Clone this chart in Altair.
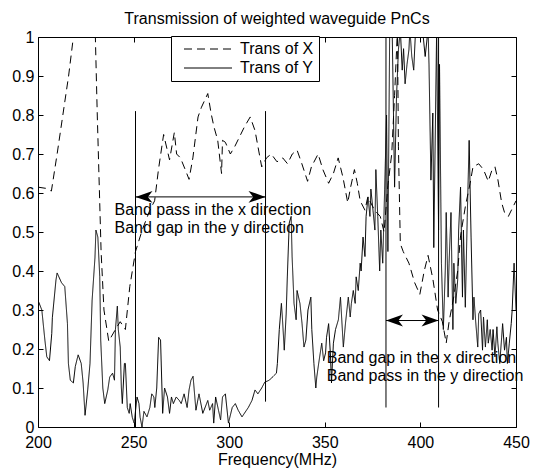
import altair as alt
import pandas as pd

FONT = "Liberation Sans"

# ---- data ----
x_freq = [200, 204, 207, 210, 213, 216, 218.5, 224, 230, 231, 233, 234.5, 237, 240.5, 243, 245.7,
          248, 251, 254.5, 258.5, 261, 263, 265.7, 268.8, 271.3, 272.5, 274.5, 277, 279, 281, 283.7,
          285.5, 288.8, 290.5, 292, 294, 296, 296.5, 298, 300.6, 303, 305.5, 308, 311, 313.5, 315,
          317, 319.5, 322, 325, 328, 330.5, 333, 335.5, 338, 341, 343, 346.5, 349, 352, 354.5, 357,
          359.5, 362, 363.5, 365.5, 367, 368.5, 371, 372.5, 376, 379, 381, 383, 385, 386.5, 388,
          388.5, 389.5, 391, 394, 397, 399.7, 402, 404, 406.5, 409, 411.5, 413.5, 415, 417.5, 419.5,
          421, 423.5, 426, 427.5, 430.5, 433, 435.5, 437.5, 439, 440.5, 442.5, 444, 446, 448.5, 450]
x_trans = [0.615, 0.612, 0.605, 0.70, 0.80, 0.90, 1.0, 1.15, 1.0, 0.80, 0.45, 0.30, 0.22, 0.25, 0.27, 0.25,
           0.36, 0.45, 0.505, 0.556, 0.58, 0.66, 0.75, 0.685, 0.755, 0.70, 0.69, 0.66, 0.635, 0.69, 0.795,
           0.82, 0.855, 0.805, 0.77, 0.735, 0.65, 0.735, 0.73, 0.70, 0.72, 0.745, 0.77, 0.795, 0.76, 0.72,
           0.667, 0.69, 0.70, 0.68, 0.69, 0.675, 0.70, 0.71, 0.675, 0.63, 0.667, 0.70, 0.66, 0.625, 0.65, 0.69,
           0.64, 0.575, 0.615, 0.66, 0.625, 0.58, 0.556, 0.59, 0.556, 0.54, 0.50, 0.62, 0.70, 0.85, 1.02,
           0.72, 0.47, 0.45, 0.42, 0.37, 0.34, 0.40, 0.44, 0.38, 0.30, 0.27, 0.215, 0.27, 0.335, 0.40,
           0.49, 0.565, 0.625, 0.667, 0.675, 0.66, 0.63, 0.66, 0.667, 0.635, 0.575, 0.55, 0.54, 0.565, 0.58]

y_freq = [200, 202, 203.6, 204.6, 206, 207.2, 207.5, 209.4, 210, 212.3, 214, 215.4, 215.9, 216.9, 218.5,
          219.5, 221, 222.6, 223.6, 224.6, 226, 227.2, 228.3, 229.8, 230.3, 231.3, 232.3, 232.8, 233.9,
          234.9, 236.5, 237.5, 239, 240, 240.5, 241.5, 242, 243, 243.6, 244.1, 245.2, 245.7, 246.7, 247.7,
          248.2, 249.3, 250.3, 251.8, 252.8, 253.4, 254.4, 255.4, 257, 258.5, 259.5, 260.6, 261.1, 262.1,
          263.1, 264.1, 265.2, 266.2, 267.7, 268.8, 269.8, 270.8, 272.3, 273.9, 274.9, 276.4, 278, 279,
          280, 281.1, 282.6, 284.2, 286.2, 288.8, 289.8, 291.3, 291.9, 292.9, 294.4, 295.5, 296.5, 298,
          299.6, 301.6, 303.2, 304.7, 306.7, 310, 311.9, 313.5, 315, 317, 318.6,
          321, 322.6, 324.7, 325.2, 326.2, 327.3, 327.8, 328.8, 329.8, 330.4, 331.4, 332.4, 332.9, 333.9,
          335, 335.5, 337, 338.1, 339.1, 340.1, 341.2, 342.7, 343.2, 344.3, 345.3, 345.8, 346.8, 348.4,
          349.4, 350.4, 350.9, 352, 353, 353.5, 354.5, 355.6, 357.1, 358.2, 358.7, 359.7, 360.8, 362.3,
          363.3, 363.9, 364.9, 365.9, 366.4, 367.5, 368.5, 369, 370, 371, 371.6, 372.6, 373.6, 374.1,
          375.2, 376.2, 376.7, 377.7, 378.7, 379.3, 380.3, 381.3, 382.3, 383, 384, 385.3, 386.5, 387.5,
          388.5, 389.5, 390.5, 391.2, 392, 393, 394, 394.5, 395.5, 396.5, 397.5, 399.5, 401.5, 402.5,
          404, 404.5, 405.5, 406.5, 407, 408.5, 409.5, 410, 411, 412, 413, 413.5, 414.5, 415, 416, 417,
          417.5, 418.5, 419.5, 420, 421, 422, 422.5, 423.5, 424.5, 425.5, 426.5, 427.5, 428, 429, 430,
          430.5, 431.5, 432.5, 433, 434, 435, 435.5, 436.5, 437.5, 438, 439, 440, 440.5, 441.5, 442.5,
          443, 444, 445, 445.5, 446.5, 447.5, 448, 449, 450]
y_trans = [0.325, 0.30, 0.223, 0.18, 0.17, 0.24, 0.28, 0.377, 0.395, 0.37, 0.36, 0.265, 0.163, 0.12, 0.113,
           0.155, 0.185, 0.163, 0.113, 0.03, 0.095, 0.163, 0.325, 0.435, 0.505, 0.487, 0.385, 0.223, 0.10,
           0.06, 0.095, 0.128, 0.138, 0.12, 0.25, 0.31, 0.25, 0.205, 0.10, 0.06, 0.163, 0.163, 0.05, 0.035,
           0.06, 0.025, 0.01, 0.077, 0.06, 0.025, 0.0, 0.04, 0.026, 0.05, 0.085, 0.077, 0.05, 0.10,
           0.23, 0.223, 0.035, 0.10, 0.077, 0.035, 0.077, 0.06, 0.077, 0.068, 0.06, 0.085, 0.05, 0.095,
           0.12, 0.13, 0.043, 0.085, 0.035, 0.068, 0.043, 0.06, 0.01, 0.077, 0.043, 0.018, 0.077, 0.085,
           0.01, 0.05, 0.06, 0.043, 0.026, 0.05, 0.068, 0.095, 0.085, 0.10, 0.115,
           0.12, 0.128, 0.138, 0.163, 0.25, 0.317, 0.282, 0.197, 0.29, 0.385, 0.523, 0.54, 0.437, 0.317,
           0.275, 0.35, 0.317, 0.265, 0.205, 0.223, 0.30, 0.333, 0.25, 0.163, 0.10, 0.128, 0.163, 0.215,
           0.17, 0.19, 0.23, 0.265, 0.18, 0.113, 0.215, 0.25, 0.275, 0.333, 0.29, 0.205, 0.265, 0.333,
           0.282, 0.317, 0.35, 0.317, 0.385, 0.35, 0.42, 0.40, 0.487, 0.437, 0.54, 0.59, 0.54, 0.61,
           0.556, 0.505, 0.66, 0.54, 0.40, 0.505, 0.42, 0.61, 0.80, 0.45, 1.05, 1.0, 0.615, 0.846,
           0.967, 1.02, 0.915, 0.97, 0.88, 0.93, 0.967, 1.02, 0.95, 0.915, 1.02, 1.05, 1.0, 0.95,
           1.02, 0.93, 0.633, 0.805, 0.46, 1.02, 0.505, 0.93, 0.42, 0.25, 0.40, 0.55, 0.333, 0.42, 0.55, 0.25,
           0.42, 0.317, 0.377, 0.505, 0.615, 0.333, 0.505, 0.307, 0.538, 0.735, 0.487, 0.275, 0.333, 0.265, 0.205,
           0.29, 0.30, 0.197, 0.282, 0.205, 0.275, 0.215, 0.25, 0.197, 0.25, 0.18, 0.257, 0.215, 0.163, 0.23,
           0.265, 0.197, 0.23, 0.163, 0.215, 0.265, 0.30, 0.42, 0.30]

series_names = ["Trans of X", "Trans of Y"]

# band-edge marker lines
vline_freq = [251, 319, 382, 409.5]
vline_low = [0.0, 0.065, 0.05, 0.05]
vline_high = [0.81, 0.81, 1.0, 1.0]

# double-headed arrows
arrow_start = [251, 382]
arrow_end = [319, 409.5]
arrow_level = [0.59, 0.273]

# annotation texts
note_text = ["Band pass in the x direction", "Band gap in the y direction",
             "Band gap in the x direction", "Band pass in the y direction"]
note_freq = [240, 240, 351, 351]
note_level = [0.556, 0.51, 0.177, 0.131]

x_ticks = [200, 250, 300, 350, 400, 450]
y_ticks = [0, 0.1, 0.2, 0.3, 0.4, 0.5, 0.6, 0.7, 0.8, 0.9, 1]
y_tick_labels = ["0", "0.1", "0.2", "0.3", "0.4", "0.5", "0.6", "0.7", "0.8", "0.9", "1"]

# ---- tables ----
lines_df = pd.concat([
    pd.DataFrame({"freq": x_freq, "trans": x_trans, "series": series_names[0]}),
    pd.DataFrame({"freq": y_freq, "trans": y_trans, "series": series_names[1]}),
], ignore_index=True)
vlines_df = pd.DataFrame({"freq": vline_freq, "lo": vline_low, "hi": vline_high})
arrows_df = pd.DataFrame({"start": arrow_start, "end": arrow_end, "level": arrow_level})
notes_df = pd.DataFrame({"text": note_text, "freq": note_freq, "level": note_level})
frame_df = pd.DataFrame({"freq": [x_ticks[0], x_ticks[-1]], "trans": [y_ticks[0], y_ticks[-1]]})

xs = alt.Scale(domain=[200, 450], nice=False, zero=False)
ys = alt.Scale(domain=[0, 1], nice=False, zero=False)

common_axis = dict(offset=-5, tickSize=5, domain=False, grid=False, tickColor="black",
                   labelColor="black", labelFont=FONT, labelFontSize=16,
                   labelOverlap=False, labelFlush=False, labelBound=False)

y_label_expr = ("[" + ",".join("'%s'" % s for s in y_tick_labels) + "][round(datum.value * 10)]")

x_axis = alt.Axis(values=x_ticks, labelPadding=7, title="Frequency(MHz)", titleFont=FONT,
                  titleFontSize=16, titleFontWeight="normal", titleColor="black", titlePadding=1,
                  **common_axis)
y_axis = alt.Axis(values=y_ticks, tickCount=11, labelPadding=4, labelExpr=y_label_expr,
                  title=None, **common_axis)


def X(field):
    return alt.X(field, type="quantitative", scale=xs, axis=x_axis)


def Y(field):
    return alt.Y(field, type="quantitative", scale=ys, axis=y_axis)


# legend line sample: a horizontal stroke drawn to the right of the symbol centre
LEGEND_LINE = "M0,0 L8,0"

lines = alt.Chart(lines_df).mark_line(clip=True, strokeWidth=1, color="black").encode(
    x=X("freq"), y=Y("trans"),
    strokeDash=alt.StrokeDash(
        "series:N",
        scale=alt.Scale(domain=series_names, range=[[8, 5], [1, 0]]),
        legend=alt.Legend(orient="none", legendX=133, legendY=-1, title=None,
                          symbolType=LEGEND_LINE, symbolSize=144, symbolStrokeWidth=1,
                          symbolStrokeColor="black", symbolFillColor="transparent",
                          labelFont=FONT, labelFontSize=16,
                          labelColor="black", labelOffset=48, strokeColor="black",
                          fillColor="white", padding=5, rowPadding=3),
    ),
    order="freq:Q",
)

vlines = alt.Chart(vlines_df).mark_rule(color="black", strokeWidth=1).encode(
    x=X("freq"), y=Y("lo"), y2="hi:Q")

shafts = alt.Chart(arrows_df).mark_rule(color="black", strokeWidth=1).encode(
    x=X("start"), x2="end:Q", y=Y("level"))

LEFT_HEAD = "M0,0 L2,-0.7 L1.45,0 L2,0.7 Z"
RIGHT_HEAD = "M0,0 L-2,-0.7 L-1.45,0 L-2,0.7 Z"
heads_left = alt.Chart(arrows_df).mark_point(shape=LEFT_HEAD, filled=True, size=289,
                                             color="black", opacity=1, strokeWidth=0).encode(
    x=X("start"), y=Y("level"))
heads_right = alt.Chart(arrows_df).mark_point(shape=RIGHT_HEAD, filled=True, size=289,
                                              color="black", opacity=1, strokeWidth=0).encode(
    x=X("end"), y=Y("level"))

notes = alt.Chart(notes_df).mark_text(align="left", baseline="middle", font=FONT, fontSize=16,
                                      color="black").encode(
    x=X("freq"), y=Y("level"), text="text:N")

main = alt.layer(lines, vlines, shafts, heads_left, heads_right, notes)

mirror_axis = dict(offset=-5, tickSize=5, domain=False, grid=False, tickColor="black",
                   labels=False, title=None, minExtent=0, maxExtent=0)
mirror = alt.Chart(frame_df).mark_point(opacity=0).encode(
    x=alt.X("freq:Q", scale=xs, axis=alt.Axis(orient="top", values=x_ticks, **mirror_axis)),
    y=alt.Y("trans:Q", scale=ys, axis=alt.Axis(orient="right", values=y_ticks, **mirror_axis)),
)

chart = alt.layer(main, mirror).resolve_scale(x="independent", y="independent").properties(
    width=478, height=390,
    title=alt.TitleParams("Transmission of weighted waveguide PnCs", font=FONT, fontSize=16,
                          fontWeight="normal", color="black", anchor="middle", offset=2),
    autosize=alt.AutoSizeParams(type="none"),
    padding={"left": 30, "top": 29, "right": 14, "bottom": 41},
    background="white",
).configure_view(stroke="black", strokeWidth=1).configure_axis(labelOverlap=False)

chart.save("out.html", embed_options={"renderer": "svg", "actions": False})
